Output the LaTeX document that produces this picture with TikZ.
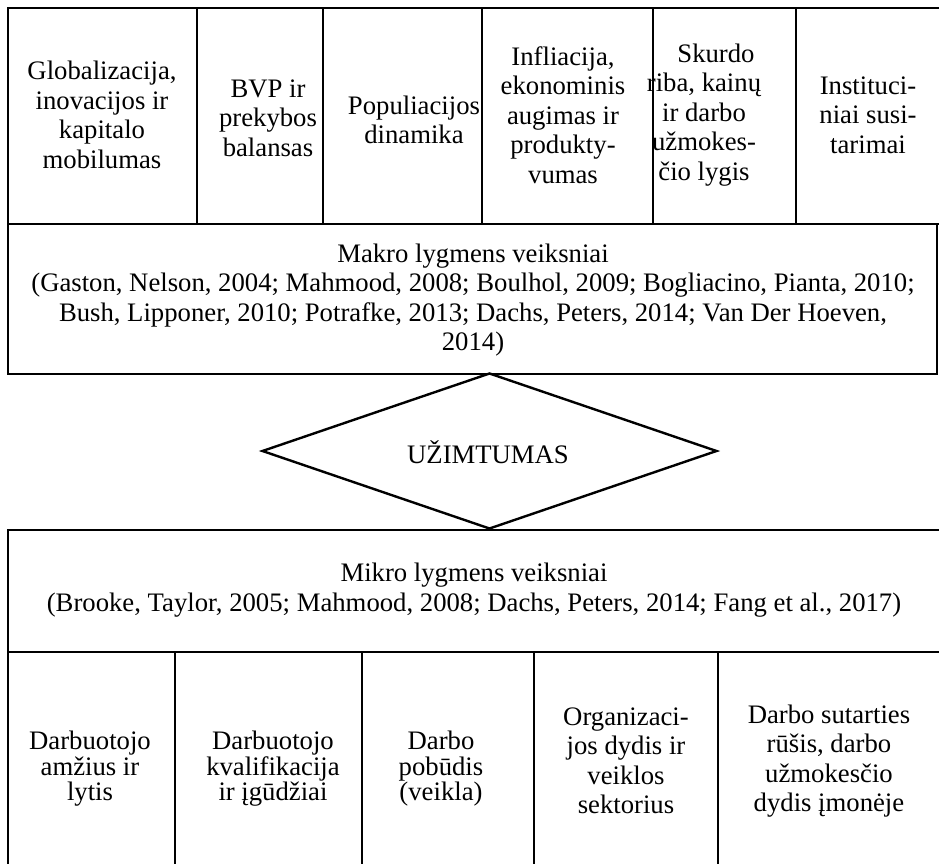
\documentclass[tikz,border=0pt]{standalone}
\usepackage{fontspec}
\setmainfont{Liberation Serif}
\usetikzlibrary{shapes.geometric}
\begin{document}
\begin{tikzpicture}[x=1pt,y=-1pt,
  cell/.style={draw,line width=2.4pt,rectangle,inner sep=0pt,anchor=north west},
  txt/.style={align=center,inner sep=0pt,font=\fontsize{26.7}{29.5}\selectfont},
  txtb/.style={align=center,inner sep=0pt,font=\fontsize{26.7}{25.5}\selectfont}]
\useasboundingbox (0,0) rectangle (939,864);
% top row
\node[cell,minimum width=189pt,minimum height=216pt] (c1) at (7,7) {};
\node[cell,minimum width=126pt,minimum height=216pt] (c2) at (196,7) {};
\node[cell,minimum width=159pt,minimum height=216pt] (c3) at (322,7) {};
\node[cell,minimum width=171pt,minimum height=216pt] (c4) at (481,7) {};
\node[cell,minimum width=143pt,minimum height=216pt] (c5) at (652,7) {};
\node[cell,minimum width=146pt,minimum height=216pt] (c6) at (795,7) {};
% makro
\node[cell,minimum width=929pt,minimum height=150pt] (makro) at (7,223) {};
% mikro
\node[cell,minimum width=934pt,minimum height=122pt] (mikro) at (7,529) {};
% bottom row
\node[cell,minimum width=167pt,minimum height=219pt] (b1) at (7,651) {};
\node[cell,minimum width=187pt,minimum height=219pt] (b2) at (174,651) {};
\node[cell,minimum width=172pt,minimum height=219pt] (b3) at (361,651) {};
\node[cell,minimum width=184pt,minimum height=219pt] (b4) at (533,651) {};
\node[cell,minimum width=224pt,minimum height=219pt] (b5) at (717,651) {};
% diamond
\node[draw,line width=2.4pt,shape=diamond,inner sep=0pt,minimum width=455pt,minimum height=156pt] (dia) at (489.5,451) {};
% texts
\node[txt] (t1) at (102,115) {Globalizacija,\\inovacijos ir\\kapitalo\\mobilumas};
\node[txt] (t2) at (268,118) {BVP ir\\prekybos\\balansas};
\node[txt] (t3) at (414,120) {Populiacijos\\dinamika};
\node[txt] (t4) at (563,115) {Infliacija,\\ekonominis\\augimas ir\\produkty-\\vumas};
\node[txt] (t5) at (704,115) {\hspace*{24pt}Skurdo\\riba, kainų\\ir darbo\\užmokes-\\čio lygis};
\node[txt] (t6) at (868,115) {Instituci-\\niai susi-\\tarimai};
\node[txt] (tmakro) at (473,300) {Makro lygmens veiksniai\\(Gaston, Nelson, 2004; Mahmood, 2008; Boulhol, 2009; Bogliacino, Pianta, 2010;\\Bush, Lipponer, 2010; Potrafke, 2013; Dachs, Peters, 2014; Van Der Hoeven,\\2014)};
\node[txt] (tdia) at (488,452) {UŽIMTUMAS};
\node[txt] (tmikro) at (474,590) {Mikro lygmens veiksniai\\(Brooke, Taylor, 2005; Mahmood, 2008; Dachs, Peters, 2014; Fang et al., 2017)};
\node[txtb] (s1) at (90,769) {Darbuotojo\\amžius ir\\lytis};
\node[txtb] (s2) at (273,769) {Darbuotojo\\kvalifikacija\\ir įgūdžiai};
\node[txtb] (s3) at (441,769) {Darbo\\pobūdis\\(veikla)};
\node[txt] (s4) at (626,761) {Organizaci-\\jos dydis ir\\veiklos\\sektorius};
\node[txt] (s5) at (829,761) {Darbo sutarties\\rūšis, darbo\\užmokesčio\\dydis įmonėje};
\end{tikzpicture}
\end{document}
